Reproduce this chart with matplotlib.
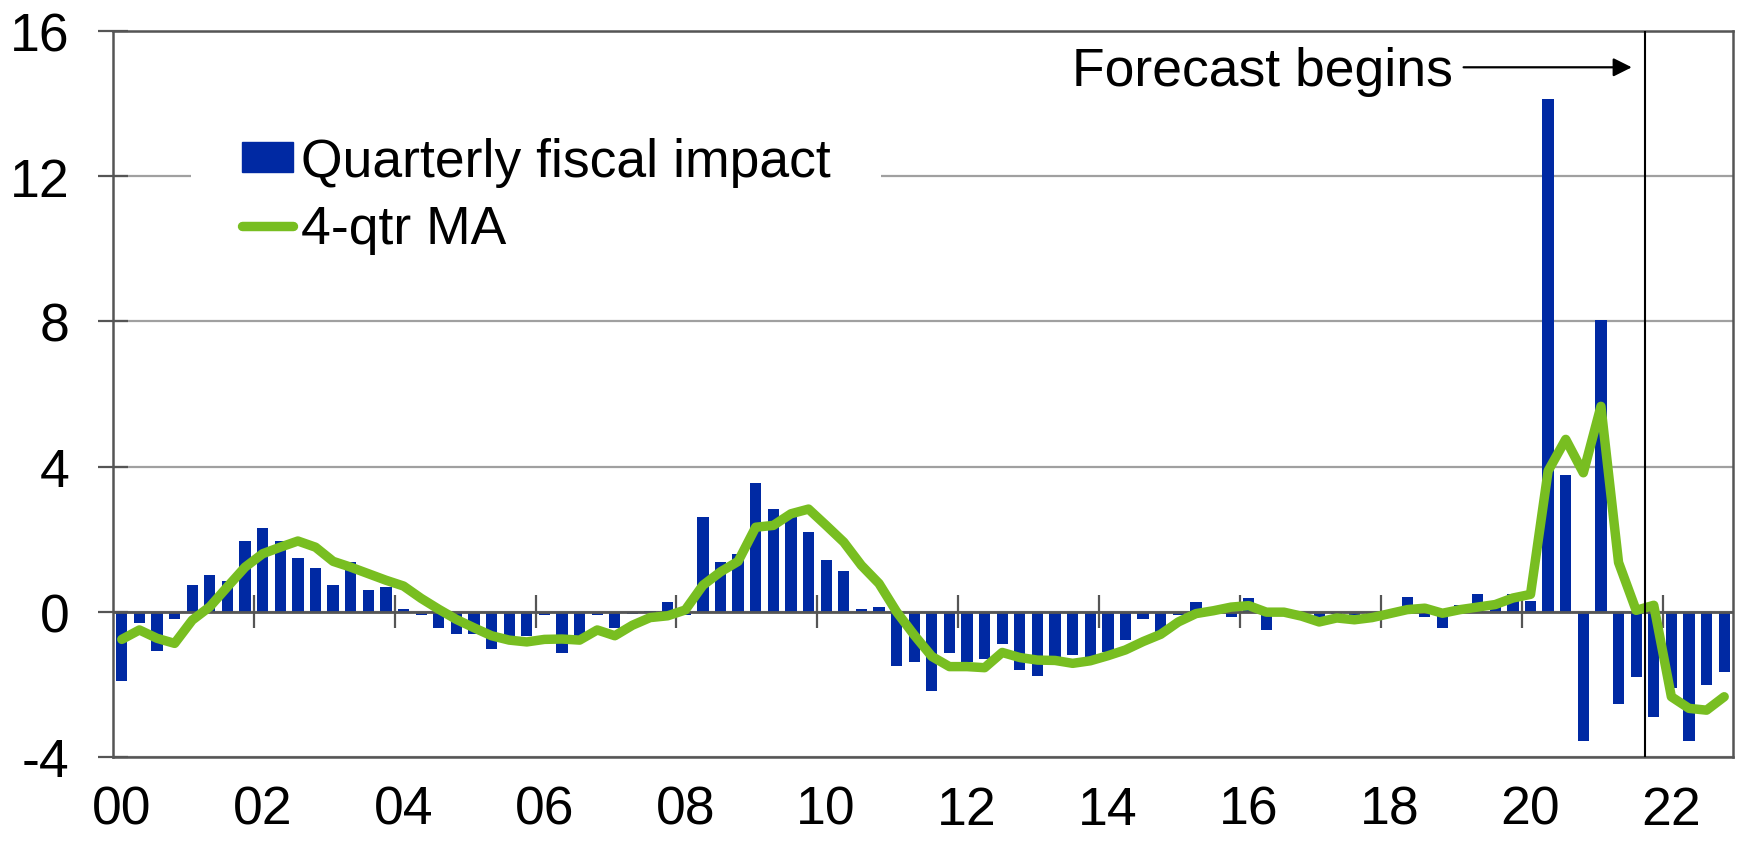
import matplotlib.pyplot as plt
import numpy as np
from matplotlib.patches import Patch
from matplotlib.lines import Line2D

plt.rcParams['font.family'] = ['Liberation Sans', 'DejaVu Sans']
plt.rcParams['axes.unicode_minus'] = False

# quarterly data, 2000Q1 .. 2022Q4
start_year = 2000
quarterly = [-1.90, -0.32, -1.08, -0.20, 0.73, 1.02, 0.85, 1.96,
             2.31, 1.96, 1.49, 1.21, 0.73, 1.37, 0.61, 0.67,
             0.08, -0.08, -0.45, -0.62, -0.62, -1.02, -0.80, -0.68,
             -0.09, -1.14, -0.78, -0.09, -0.46, -0.05, 0.02, 0.26,
             -0.09, 2.60, 1.37, 1.60, 3.54, 2.83, 2.65, 2.19,
             1.43, 1.13, 0.09, 0.14, -1.48, -1.37, -2.19, -1.14,
             -1.37, -1.31, -0.90, -1.60, -1.77, -1.45, -1.19, -1.30,
             -1.10, -0.79, -0.20, -0.56, -0.10, 0.26, 0.05, -0.15,
             0.37, -0.49, 0.02, -0.10, -0.30, -0.05, -0.10, -0.05,
             0.05, 0.42, -0.13, -0.44, 0.19, 0.49, 0.24, 0.48,
             0.30, 14.12, 3.77, -3.55, 8.04, -2.55, -1.79, -2.90,
             -2.11, -3.55, -2.02, -1.67]
ma4 = [-0.76, -0.50, -0.73, -0.87, -0.23, 0.14, 0.69, 1.23,
       1.60, 1.78, 1.95, 1.78, 1.39, 1.23, 1.05, 0.87,
       0.71, 0.37, 0.07, -0.21, -0.44, -0.66, -0.78, -0.83,
       -0.76, -0.75, -0.78, -0.50, -0.66, -0.37, -0.16, -0.11,
       0.05, 0.73, 1.10, 1.39, 2.33, 2.38, 2.70, 2.83,
       2.38, 1.92, 1.28, 0.78, 0.00, -0.64, -1.23, -1.51,
       -1.51, -1.54, -1.12, -1.26, -1.33, -1.34, -1.42, -1.35,
       -1.21, -1.05, -0.82, -0.62, -0.28, -0.05, 0.03, 0.13,
       0.17, -0.01, -0.01, -0.12, -0.28, -0.17, -0.22, -0.16,
       -0.05, 0.06, 0.10, -0.04, 0.06, 0.13, 0.20, 0.38,
       0.48, 3.88, 4.75, 3.83, 5.66, 1.36, 0.04, 0.18,
       -2.34, -2.66, -2.71, -2.34]
year_labels = ['00', '02', '04', '06', '08', '10', '12', '14', '16', '18', '20', '22']
forecast_start = '2021Q4'

bar_color = '#0029a3'
ma_color = '#78be21'
axis_color = '#555555'
fs = 38.5

x = np.arange(len(quarterly))
fc_year, fc_q = forecast_start.split('Q')
fc_idx = (int(fc_year) - start_year) * 4 + int(fc_q) - 1

fig = plt.figure(figsize=(17.39, 8.45), dpi=100)
ax = fig.add_axes([113 / 1739, 87 / 845, 1620 / 1739, 726 / 845])

ax.bar(x, quarterly, width=0.64, color=bar_color, zorder=2)
ax.plot(x, ma4, color=ma_color, lw=6.8, solid_joinstyle='round',
        solid_capstyle='round', zorder=3)

ax.set_xlim(-0.5, len(quarterly) - 0.5)
ax.set_ylim(-4, 16)

# y axis
ax.set_yticks(np.arange(-4, 17, 4))
ax.tick_params(axis='y', direction='inout', length=21, width=1.6,
               color=axis_color, labelsize=fs, pad=21)
ax.grid(axis='y', color='#a0a0a0', lw=1.6, zorder=0)
ax.set_axisbelow(True)

# x axis: labels at Q1 of every other year, tick marks cross the zero line
label_pos = [8 * k for k in range(len(year_labels))]
ax.set_xticks(label_pos)
ax.set_xticklabels(year_labels)
ax.tick_params(axis='x', length=0, labelsize=fs, pad=20)
ax.axhline(0, color=axis_color, lw=2, zorder=2.5)
ax.vlines([p - 0.5 for p in label_pos[1:]], -0.45, 0.45,
          color=axis_color, lw=1.6, zorder=2.5)

for s in ax.spines.values():
    s.set_color(axis_color)
    s.set_linewidth(1.8)

# forecast marker
ax.axvline(fc_idx - 0.5, color='black', lw=1.5, zorder=4)
ax.annotate('', xy=(fc_idx - 1.25, 15), xytext=(fc_idx - 10.8, 15),
            arrowprops=dict(arrowstyle='-|>', color='black', lw=1.6,
                            mutation_scale=28, shrinkA=0, shrinkB=0))
ax.text(fc_idx - 11.4, 14.5, 'Forecast begins', fontsize=fs,
        ha='right', va='baseline')

handles = [Patch(color=bar_color), Line2D([], [], color=ma_color, lw=6.8,
                                           solid_capstyle='round')]
leg = ax.legend(handles, ['Quarterly fiscal impact', '4-qtr MA'],
                loc='upper left', bbox_to_anchor=(78 / 1620, 1 - 55 / 726),
                fontsize=fs, frameon=True, fancybox=False, framealpha=1,
                edgecolor='none', borderpad=0.95, handlelength=0.95,
                handleheight=0.5, handletextpad=0.15, labelspacing=0.33,
                borderaxespad=0)

fig.savefig('out.png', dpi=100)
